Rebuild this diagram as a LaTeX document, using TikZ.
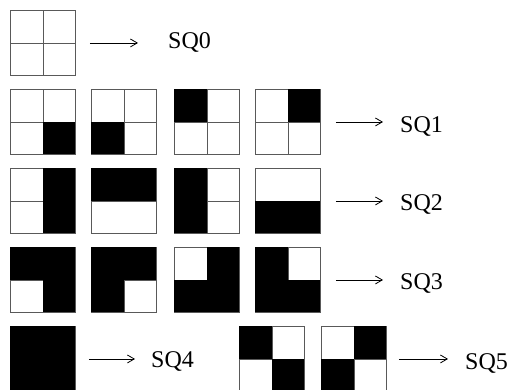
\documentclass[tikz,border=0pt]{standalone}
\usepackage{fontspec}
\setmainfont{Liberation Serif}
\usetikzlibrary{arrows.meta}
\definecolor{edge}{HTML}{595959}
\tikzset{
  sq/.style={draw=edge, fill=white, line width=0.9pt, minimum size=65pt,
             inner sep=0pt, anchor=north west},
  cross/.style={draw=edge, line width=0.9pt},
  blk/.style={fill=black},
  lab/.style={font=\fontsize{24}{28}\selectfont, inner sep=0pt, anchor=base west},
  ar/.style={-{Straight Barb[length=2.4mm, width=2.8mm]}, line width=0.8pt},
}
\begin{document}
\begin{tikzpicture}[x=1pt, y=-1pt]
\useasboundingbox (0,0) rectangle (513,389);
\clip (0,0) rectangle (513,389);

\node[sq] (s0) at (10,10) {};
\foreach \r/\y in {1/89, 2/168, 3/247}
  \foreach \c/\x in {a/10, b/91, c/174, d/255}
    \node[sq] (s\r\c) at (\x,\y) {};
\node[sq] (s4) at (10,326) {};
\node[sq] (s5a) at (239,326) {};
\node[sq] (s5b) at (321,326) {};

\foreach \n in {s0, s1a, s1b, s1c, s1d, s2a, s2c,
                s3a, s3b, s3c, s3d, s5a, s5b}
  \draw[cross] (\n.north) -- (\n.south);
\foreach \n in {s0, s1a, s1b, s1c, s1d, s2a, s2b, s2c, s2d,
                s3a, s3b, s3c, s3d, s5a, s5b}
  \draw[cross] (\n.west) -- (\n.east);

% black quarters: column i, row j
\foreach \n/\i/\j in {s1a/1/1, s1b/0/1, s1c/0/0, s1d/1/0,
                      s2a/1/0, s2a/1/1, s2b/0/0, s2b/1/0,
                      s2c/0/0, s2c/0/1, s2d/0/1, s2d/1/1,
                      s3a/0/0, s3a/1/0, s3a/1/1, s3b/0/0, s3b/1/0, s3b/0/1,
                      s3c/1/0, s3c/0/1, s3c/1/1, s3d/0/0, s3d/0/1, s3d/1/1,
                      s4/0/0, s4/1/0, s4/0/1, s4/1/1,
                      s5a/0/0, s5a/1/1, s5b/1/0, s5b/0/1}
  \fill[blk] ([xshift=\i*32.5pt, yshift=-\j*32.5pt]\n.north west) rectangle ++(32.5,32.5);

\node[lab] (t0) at (168,48) {SQ0};
\node[lab] (t1) at (400,132) {SQ1};
\node[lab] (t2) at (400,210) {SQ2};
\node[lab] (t3) at (400,289) {SQ3};
\node[lab] (t4) at (151,367) {SQ4};
\node[lab] (t5) at (465,369) {SQ5};

\foreach \s/\t/\a/\b in {s0/t0/14/30, s1d/t1/15/17, s2d/t2/15/17,
                         s3d/t3/15/17, s4/t4/13/16, s5b/t5/12/17}
  \draw[ar, shorten <=\a pt, shorten >=\b pt] (\s.east) -- (\s.east -| \t.west);
\end{tikzpicture}
\end{document}
